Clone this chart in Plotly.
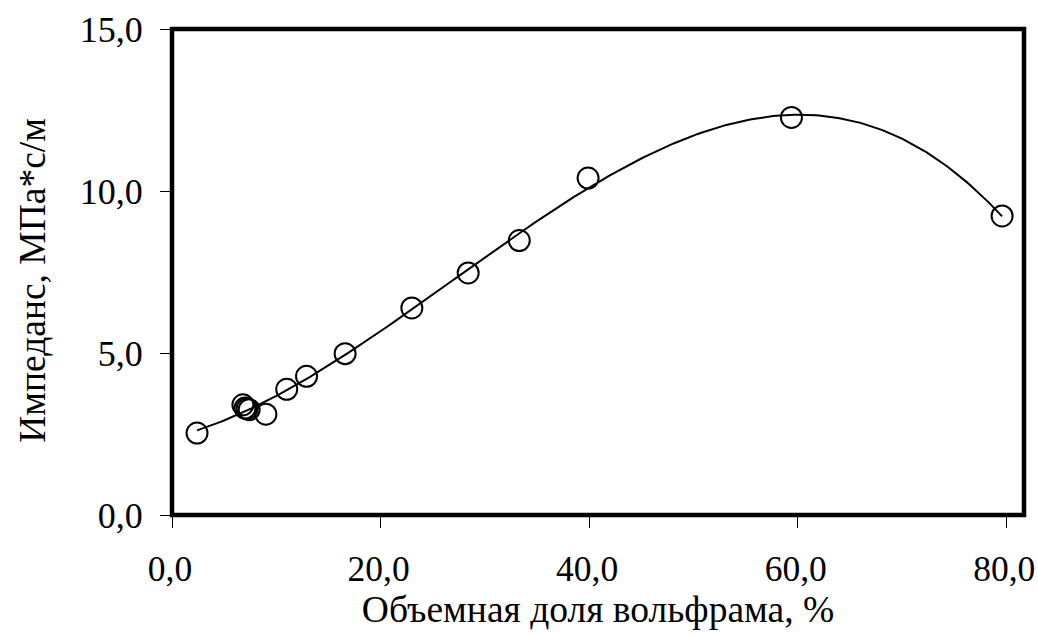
import numpy as np
import plotly.graph_objects as go

# Data
tungsten_fraction = [2.4, 6.8, 7.0, 7.2, 7.4, 9.0, 11.0, 12.9, 16.6, 23.0, 28.4, 33.3, 39.9, 59.4, 79.6]
impedance = [2.53, 3.40, 3.30, 3.28, 3.25, 3.11, 3.88, 4.28, 4.98, 6.39, 7.47, 8.47, 10.40, 12.27, 9.23]

x_ticks = [0, 20, 40, 60, 80]
y_ticks = [0, 5, 10, 15]
x_title = "Объемная доля вольфрама, %"
y_title = "Импеданс, МПа*с/м"

# Polynomial (order 3) trend line through the data, as in the original chart
coef = np.polyfit(tungsten_fraction, impedance, 3)
xs = np.linspace(min(tungsten_fraction), max(tungsten_fraction), 300)
ys = np.polyval(coef, xs)

FONT = "Liberation Serif"
BLACK = "#000000"

fig = go.Figure()
fig.add_trace(go.Scatter(x=xs, y=ys, mode="lines",
                         line=dict(color=BLACK, width=2), hoverinfo="skip",
                         showlegend=False))
fig.add_trace(go.Scatter(x=tungsten_fraction, y=impedance, mode="markers",
                         marker=dict(symbol="circle-open", size=21, color=BLACK,
                                     line=dict(width=2, color=BLACK)),
                         showlegend=False))

fig.add_shape(type="rect", xref="paper", yref="paper", x0=0, y0=0, x1=1, y1=1,
              line=dict(color=BLACK, width=4.5), layer="above")

# y-axis title placed as a rotated annotation
fig.add_annotation(text=y_title, textangle=-90, xref="paper", yref="paper",
                   x=-0.1636, y=0.483, xanchor="center", yanchor="middle",
                   showarrow=False, font=dict(family=FONT, size=37.5, color=BLACK))

fig.update_layout(
    template="none",
    width=1038, height=637,
    margin=dict(l=172, r=14, t=29, b=122, autoexpand=False),
    paper_bgcolor="white", plot_bgcolor="white",
    separators=", ",
    font=dict(family=FONT, size=36, color=BLACK),
)
fig.update_xaxes(range=[0, 81.7], tickvals=x_ticks, tickformat=".1f", automargin=False,
                 ticks="outside", ticklen=12, tickwidth=1, tickcolor=BLACK,
                 ticklabelstandoff=10, ticklabeloverflow="allow", ticklabelshift=-2,
                 showgrid=False, zeroline=False, showline=False,
                 tickfont=dict(family=FONT, size=35.5, color=BLACK),
                 title=dict(text=x_title, font=dict(family=FONT, size=37.5, color=BLACK), standoff=8))
fig.update_yaxes(range=[0, 15], tickvals=y_ticks, tickformat=".1f", automargin=False,
                 ticks="outside", ticklen=11, tickwidth=1, tickcolor=BLACK,
                 ticklabelstandoff=10, ticklabeloverflow="allow",
                 showgrid=False, zeroline=False, showline=False,
                 tickfont=dict(family=FONT, size=36, color=BLACK))

# remove the default page margin so the figure fills the 1038x637 window exactly
fig.write_html("out.html",
               config={"displayModeBar": False},
               post_script="document.body.style.margin='0';"
                           "document.body.style.overflow='hidden';")
